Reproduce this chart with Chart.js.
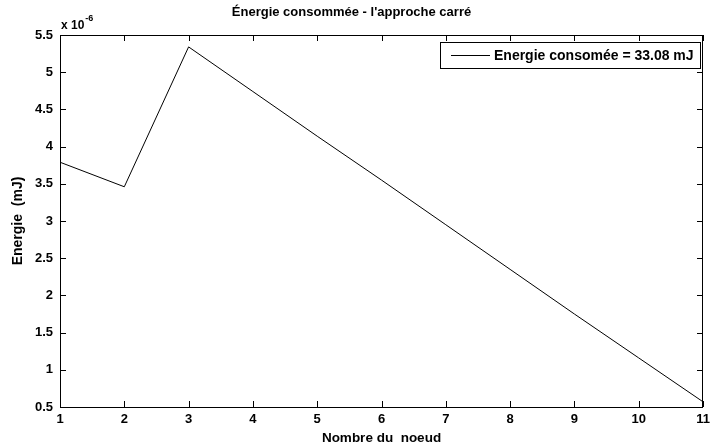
<!DOCTYPE html>
<html>
<head>
<meta charset="utf-8">
<script src="https://cdn.jsdelivr.net/npm/chart.js@4/dist/chart.umd.min.js"></script>
<style>
  html, body { margin: 0; padding: 0; background: #fff; }
  #wrap { width: 710px; height: 447px; }
</style>
</head>
<body>
<div id="wrap"><canvas id="energie"></canvas></div>
<script>
// node numbers and energy per node (units of 1e-6 mJ)
var noeuds = [1, 2, 3, 4, 5, 6, 7, 8, 9, 10, 11];
var energie = [3.79, 3.46, 5.34, 4.74, 4.14, 3.55, 2.95, 2.35, 1.75, 1.16, 0.57];
var yTicks = [0.5, 1, 1.5, 2, 2.5, 3, 3.5, 4, 4.5, 5, 5.5];
var xTicks = [1, 2, 3, 4, 5, 6, 7, 8, 9, 10, 11];
var legendLabel = 'Energie consomée = 33.08 mJ';

var police = '"Liberation Sans", Arial, Helvetica, sans-serif';

// matlab like frame, inward ticks, exponent and boxed legend
var matlabBox = {
  id: 'matlabBox',
  afterDraw: function(chart) {
    var ctx = chart.ctx, a = chart.chartArea;
    var xs = chart.scales.x, ys = chart.scales.y;
    ctx.save();
    ctx.strokeStyle = '#000';
    ctx.lineWidth = 1;
    ctx.strokeRect(Math.round(a.left) + 0.5, Math.round(a.top) + 0.5,
                   Math.round(a.right - a.left) - 1, Math.round(a.bottom - a.top));
    ctx.beginPath();
    xTicks.forEach(function(v) {
      var px = Math.round(xs.getPixelForValue(v)) + 0.5;
      ctx.moveTo(px, a.bottom); ctx.lineTo(px, a.bottom - 6);
      ctx.moveTo(px, a.top); ctx.lineTo(px, a.top + 6);
    });
    yTicks.forEach(function(v) {
      var py = Math.round(ys.getPixelForValue(v)) + 0.5;
      ctx.moveTo(a.left, py); ctx.lineTo(a.left + 6, py);
      ctx.moveTo(a.right, py); ctx.lineTo(a.right - 6, py);
    });
    ctx.stroke();

    // exponent
    ctx.fillStyle = '#000';
    ctx.textBaseline = 'alphabetic';
    ctx.textAlign = 'left';
    ctx.font = 'bold 12px ' + police;
    ctx.fillText('x 10', a.left + 1, a.top - 6);
    var w = ctx.measureText('x 10').width;
    ctx.font = 'bold 9px ' + police;
    ctx.fillText('-6', a.left + 2 + w, a.top - 14);

    // legend
    var bx = 440, by = 42, bw = 260, bh = 26;
    ctx.fillStyle = '#fff';
    ctx.fillRect(bx, by, bw, bh);
    ctx.strokeRect(bx + 0.5, by + 0.5, bw, bh);
    ctx.beginPath();
    ctx.moveTo(bx + 11, by + bh / 2 + 0.5);
    ctx.lineTo(bx + 50, by + bh / 2 + 0.5);
    ctx.stroke();
    ctx.fillStyle = '#000';
    ctx.font = 'bold 14px ' + police;
    ctx.textBaseline = 'middle';
    ctx.fillText(legendLabel, bx + 54, by + bh / 2 + 1);
    ctx.restore();
  }
};

new Chart(document.getElementById('energie'), {
  type: 'line',
  data: {
    datasets: [{
      label: legendLabel,
      data: noeuds.map(function(n, i) { return { x: n, y: energie[i] }; }),
      borderColor: '#000',
      borderWidth: 1,
      pointRadius: 0,
      tension: 0,
      fill: false
    }]
  },
  options: {
    responsive: true,
    maintainAspectRatio: false,
    animation: false,
    layout: { padding: { left: 0, right: 7, top: 0, bottom: 0 } },
    plugins: {
      legend: { display: false },
      tooltip: { enabled: false },
      title: {
        display: true,
        text: 'Énergie consommée - l\'approche carré',
        color: '#000',
        font: { family: police, size: 13, weight: 'bold' },
        padding: { top: 5, bottom: 14.4 }
      }
    },
    scales: {
      x: {
        type: 'linear',
        min: 1,
        max: 11,
        afterFit: function(s) { s.height = 40; s.paddingLeft = 0; s.paddingRight = 0; },
        afterBuildTicks: function(s) { s.ticks = xTicks.map(function(v) { return { value: v }; }); },
        grid: { display: false, drawTicks: false },
        border: { display: false },
        ticks: {
          color: '#000',
          padding: 5,
          maxRotation: 0,
          font: { family: police, size: 13, weight: 'bold' }
        },
        title: {
          display: true,
          text: 'Nombre du  noeud',
          color: '#000',
          font: { family: police, size: 13.5, weight: 'bold' },
          padding: { top: 0, bottom: 1 }
        }
      },
      y: {
        min: 0.5,
        max: 5.5,
        afterFit: function(s) { s.width = 60; s.paddingTop = 0; s.paddingBottom = 0; },
        afterBuildTicks: function(s) { s.ticks = yTicks.map(function(v) { return { value: v }; }); },
        grid: { display: false, drawTicks: false },
        border: { display: false },
        ticks: {
          color: '#000',
          padding: 7,
          font: { family: police, size: 13, weight: 'bold' },
          callback: function(v) { return String(v); }
        },
        title: {
          display: true,
          text: 'Energie  (mJ)',
          color: '#000',
          font: { family: police, size: 14, weight: 'bold' },
          padding: { top: 10, bottom: 0 }
        }
      }
    }
  },
  plugins: [matlabBox]
});
</script>
</body>
</html>
